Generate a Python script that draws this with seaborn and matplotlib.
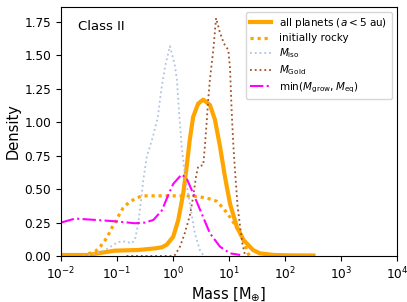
import matplotlib
matplotlib.use('Agg')
import numpy as np
import matplotlib.pyplot as plt
import seaborn as sns

# log10(mass / M_earth) and density
all_logm = [-2.0, -1.52, -1.27, -1.04, -0.62, -0.32, -0.2, -0.11, 0.005,
            0.095, 0.184, 0.245, 0.30, 0.36, 0.45, 0.54, 0.66, 0.75, 0.84,
            0.93, 1.02, 1.14, 1.26, 1.43, 1.55, 1.8, 2.1, 2.51]
all_dens = [0.0075, 0.0075, 0.025, 0.04, 0.045, 0.057, 0.065, 0.085, 0.145,
            0.27, 0.47, 0.67, 0.87, 1.04, 1.14, 1.17, 1.13, 1.02, 0.82,
            0.59, 0.39, 0.22, 0.12, 0.045, 0.02, 0.008, 0.005, 0.004]

rocky_logm = [-1.51, -1.38, -1.29, -1.21, -1.14, -1.08, -1.02, -0.96, -0.89,
              -0.79, -0.67, -0.55, -0.2, 0.2, 0.45, 0.63, 0.78, 0.87, 0.95,
              1.02, 1.09, 1.155, 1.23, 1.29, 1.34, 1.37]
rocky_dens = [0.015, 0.037, 0.075, 0.12, 0.17, 0.22, 0.26, 0.31, 0.36,
              0.40, 0.43, 0.45, 0.45, 0.45, 0.445, 0.43, 0.41, 0.37, 0.33,
              0.29, 0.245, 0.20, 0.145, 0.08, 0.02, 0.0]

iso_logm = [-1.6, -1.45, -1.33, -1.16, -1.0, -0.92, -0.83, -0.74, -0.68,
            -0.62, -0.57, -0.53, -0.47, -0.36, -0.27, -0.21, -0.18, -0.14,
            -0.054, 0.036, 0.07, 0.11, 0.155, 0.21, 0.27, 0.33, 0.39, 0.48,
            0.54, 0.58]
iso_dens = [0.0, 0.01, 0.025, 0.057, 0.10, 0.11, 0.107, 0.095, 0.12,
            0.245, 0.42, 0.57, 0.74, 0.89, 1.04, 1.24, 1.32, 1.42,
            1.57, 1.42, 1.32, 1.07, 0.82, 0.62, 0.47, 0.32, 0.17, 0.045,
            0.0075, 0.0]

gold_logm = [-0.83, 0.0, 0.036, 0.125, 0.21, 0.30, 0.36, 0.41, 0.45, 0.54,
             0.57, 0.60, 0.63, 0.66, 0.72, 0.77, 0.84, 0.91, 0.99, 1.02,
             1.05, 1.08, 1.12, 1.155, 1.2, 1.24, 1.29]
gold_dens = [0.0, 0.0, 0.0075, 0.07, 0.17, 0.30, 0.44, 0.59, 0.67, 0.68,
             0.82, 0.99, 1.17, 1.32, 1.54, 1.78, 1.67, 1.59, 1.54, 1.40,
             1.07, 0.82, 0.57, 0.37, 0.22, 0.095, 0.0]

grow_logm = [-2.0, -1.75, -1.39, -1.04, -0.68, -0.5, -0.35, -0.2, -0.1,
             0.005, 0.155, 0.245, 0.39, 0.51, 0.66, 0.84, 1.02, 1.2]
grow_dens = [0.25, 0.28, 0.27, 0.26, 0.245, 0.25, 0.27, 0.34, 0.44,
             0.54, 0.61, 0.58, 0.44, 0.32, 0.17, 0.07, 0.02, 0.008]

series = [
    (all_logm, all_dens, r'all planets ($a < 5$ au)', 'orange', '-', 3.0),
    (rocky_logm, rocky_dens, 'initially rocky', 'orange', (0, (1, 1.2)), 2.3),
    (iso_logm, iso_dens, r'$M_{\rm iso}$', 'lightsteelblue', ':', 1.3),
    (gold_logm, gold_dens, r'$M_{\rm Gold}$', 'sienna', ':', 1.3),
    (grow_logm, grow_dens, r'min($M_{\rm grow}, M_{\rm eq}$)', 'magenta', '-.', 1.5),
]

plt.rcParams['font.family'] = ['DejaVu Sans']
fig = plt.figure(figsize=(4.07, 3.02), dpi=100)
ax = fig.add_axes([0.15, 0.1523, 0.825, 0.8255])

for logm, dens, label, color, ls, lw in series:
    sns.lineplot(x=10 ** np.array(logm), y=dens, ax=ax, color=color,
                 linestyle=ls, linewidth=lw, label=label, sort=False)

ax.set_xscale('log')
ax.set_xlim(1e-2, 1e4)
ax.set_ylim(0, 1.865)
ax.set_yticks([0, 0.25, 0.5, 0.75, 1.0, 1.25, 1.5, 1.75])
ax.yaxis.set_major_formatter(matplotlib.ticker.FormatStrFormatter('%.2f'))
ax.xaxis.set_minor_locator(matplotlib.ticker.NullLocator())
ax.tick_params(labelsize=8.7)
ax.set_xlabel(r'Mass [M$_{\oplus}$]', fontsize=10.5, labelpad=2)
ax.set_ylabel('Density', fontsize=10.5, labelpad=3)
ax.text(0.05, 0.92, 'Class II', transform=ax.transAxes, fontsize=9.5,
        va='center', ha='left')
ax.legend(loc='upper right', fontsize=7.5, frameon=True, labelspacing=0.3)

fig.savefig('out.png', dpi=100)
